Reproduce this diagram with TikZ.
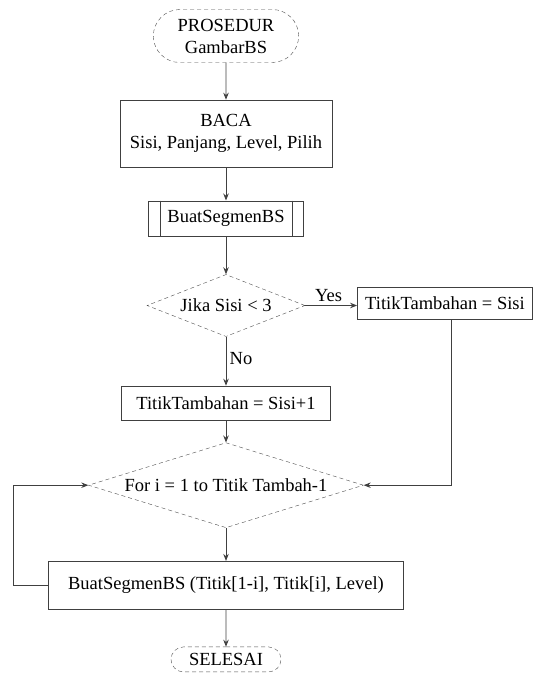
\documentclass[tikz,border=0pt]{standalone}
\usepackage{fontspec}
\setmainfont{Liberation Serif}
\usepackage{tikz}
\usetikzlibrary{arrows.meta,positioning,shapes.geometric,shapes.misc}

\begin{document}
\begin{tikzpicture}[x=1pt, y=-1pt,
      font=\fontsize{18.5}{22}\selectfont,
      term/.style={draw=black!70, dash pattern=on 4pt off 3pt, rounded rectangle,
                   minimum width=152pt, minimum height=53pt, align=center},
      proc/.style={draw=black!75, line width=0.8pt, minimum height=34pt,
                   inner sep=3pt, align=center},
      dec/.style={draw=black!70, dash pattern=on 4pt off 3pt, diamond,
                  inner sep=0pt, align=center},
      arr/.style={-{Stealth[length=7pt,width=5.5pt]}, line width=0.8pt, color=black!75}
  ]
    \useasboundingbox (0,0) rectangle (536,674);
    \node[term] (mulai) at (226,36) {PROSEDUR\\GambarBS};
    \node[proc, below=37pt of mulai, minimum width=212pt, minimum height=67pt] (baca) {BACA\\Sisi, Panjang, Level, Pilih};
    \node[proc, below=33pt of baca, minimum width=155pt, minimum height=35pt] (sub) {BuatSegmenBS};
    \node[dec, below=38pt of sub, aspect=2.55, minimum width=158pt, minimum height=62pt] (cek) {Jika Sisi < 3};
    \node[proc, below=49pt of cek, minimum width=209pt] (tt1) {TitikTambahan = Sisi+1};
    \node[dec, below=22pt of tt1, aspect=3.2, minimum width=275pt, minimum height=85pt] (for) {For i = 1 to Titik Tambah-1};
    \node[proc, below=33pt of for, minimum width=355pt, minimum height=48pt] (loop) {BuatSegmenBS (Titik[1-i], Titik[i], Level)};
    \node[term, below=37pt of loop, minimum width=112pt, minimum height=25pt, inner sep=1pt] (selesai) {SELESAI};
    \node[proc, minimum width=175pt, minimum height=32pt] (tt2) at (445,303) {TitikTambahan = Sisi};
    \draw[line width=0.8pt, black!75] ([xshift=12pt]sub.north west) -- ([xshift=12pt]sub.south west);
    \draw[line width=0.8pt, black!75] ([xshift=-12pt]sub.north east) -- ([xshift=-12pt]sub.south east);
    \draw[arr] (mulai) -- (baca);
    \draw[arr] (baca) -- (sub);
    \draw[arr] (sub) -- (cek);
    \draw[arr] (cek.east) -- node[above, pos=0.45, black] {Yes} (cek.east -| tt2.west);
    \draw[arr] (cek) -- node[right, pos=0.45, black] {No} (tt1);
    \draw[arr] (tt1) -- (for);
    \draw[arr] ([xshift=6pt]tt2.south) |- (for.east);
    \draw[arr] (for) -- (loop);
    \draw[arr] (loop.west) -- ++(-35,0) |- (for.west);
    \draw[arr] (loop) -- (selesai);
  \end{tikzpicture}
\end{document}
